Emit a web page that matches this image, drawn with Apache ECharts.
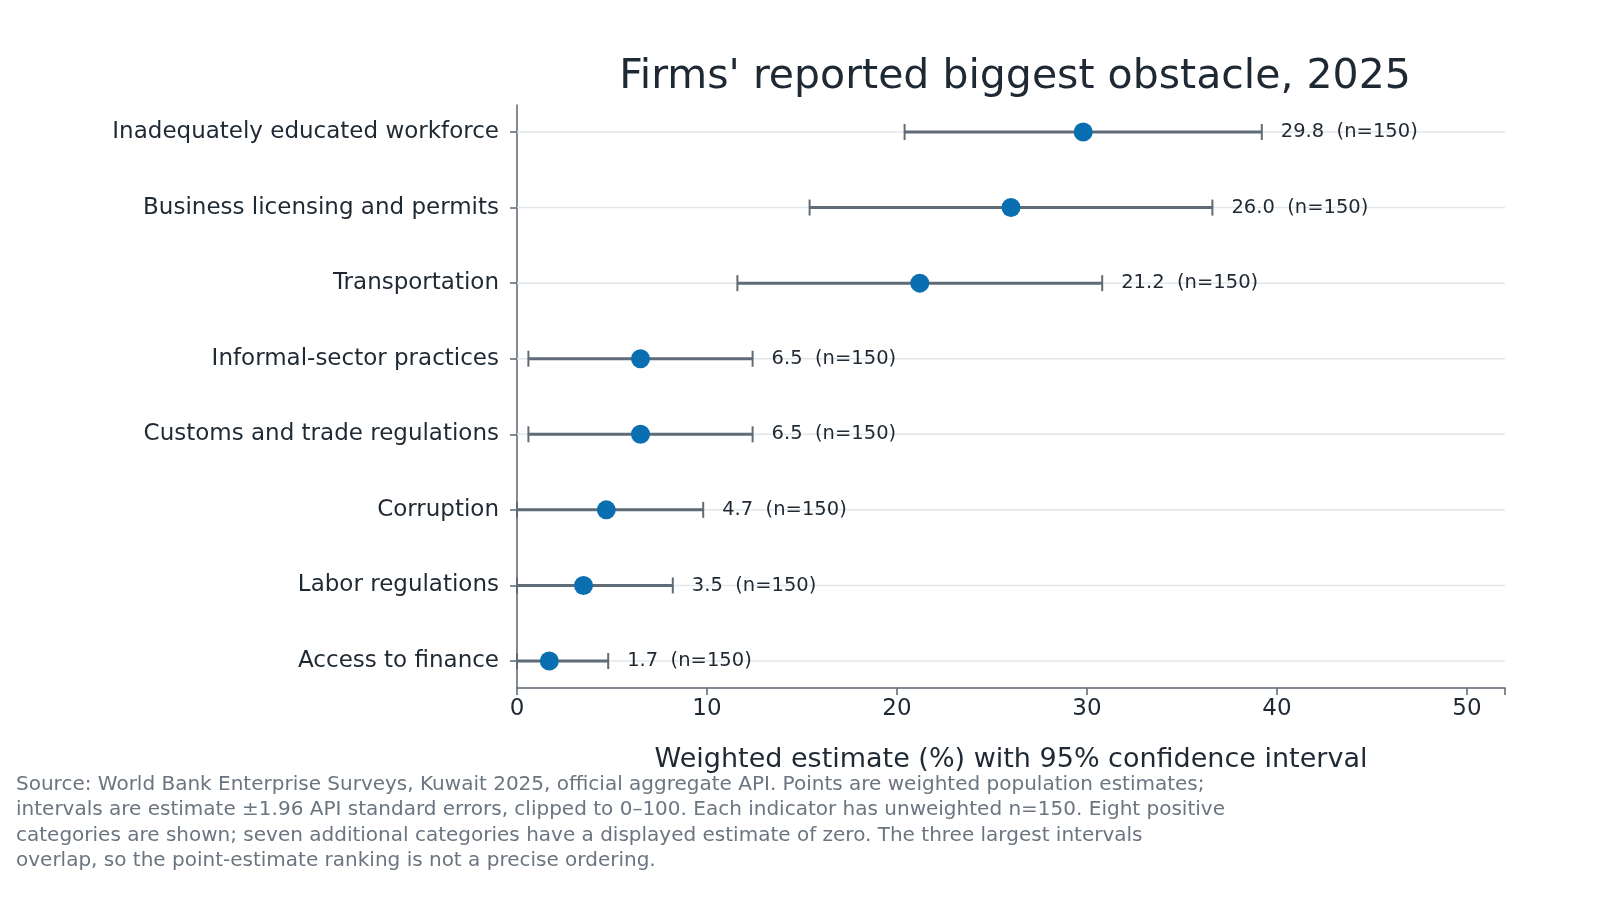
<!DOCTYPE html>
<html><head><meta charset="utf-8">
<script src="https://cdn.jsdelivr.net/npm/echarts@6/dist/echarts.min.js"></script>
<style>html,body{margin:0;padding:0;background:#fff}#c{width:1600px;height:900px}</style>
</head><body><div id="c"></div>
<script>
const categories = ["Access to finance","Labor regulations","Corruption","Customs and trade regulations","Informal-sector practices","Transportation","Business licensing and permits","Inadequately educated workforce"];
const estimates = [1.7,3.5,4.7,6.5,6.5,21.2,26.0,29.8];
const lows = [0,0,0,0.6,0.6,11.6,15.4,20.4];
const highs = [4.8,8.2,9.8,12.4,12.4,30.8,36.6,39.2];
const nValues = [150,150,150,150,150,150,150,150];
const xTicks = [0,10,20,30,40,50];

const F = 'DejaVu Sans';
const chart = echarts.init(document.getElementById('c'));
chart.setOption({
  animation:false,
  textStyle:{fontFamily:F},
  title:{text:"Firms' reported biggest obstacle, 2025",left:1010,top:52,textAlign:'center',
    textStyle:{fontFamily:F,fontSize:41,fontWeight:'normal',color:'#1f2933'}},
  grid:{left:517,right:95,top:105,bottom:212},
  xAxis:{type:'value',min:0,max:52,interval:10,
    name:'Weighted estimate (%) with 95% confidence interval',nameLocation:'middle',nameGap:58,
    nameTextStyle:{fontFamily:F,fontSize:27,color:'#1f2933'},
    axisLine:{show:true,onZero:false,lineStyle:{color:'#5a6570',width:1.5}},
    axisTick:{show:true,length:7,lineStyle:{color:'#5a6570',width:1.5}},
    axisLabel:{fontFamily:F,fontSize:23,color:'#1f2933',margin:10,
      formatter:v=>xTicks.includes(v)?String(v):''},
    splitLine:{show:false}},
  yAxis:{type:'value',min:-0.357,max:7.357,interval:1,
    axisLine:{show:true,onZero:false,lineStyle:{color:'#5a6570',width:1.5}},
    axisTick:{show:true,length:7,lineStyle:{color:'#5a6570',width:1.5},
      customValues:[0,1,2,3,4,5,6,7]},
    axisLabel:{fontFamily:F,fontSize:23,color:'#1f2933',margin:18,
      customValues:[0,1,2,3,4,5,6,7],formatter:v=>categories[Math.round(v)]},
    splitLine:{show:false}},
  series:[
    {type:'custom',z:1,data:categories.map((c,i)=>[i]),
     renderItem:(p,api)=>{const i=api.value(0);
       const a=api.coord([0,i]), b=api.coord([52,i]);
       return {type:'line',shape:{x1:a[0],y1:a[1],x2:b[0],y2:b[1]},style:{stroke:'#e3e6e9',lineWidth:1.5}};}},
    {type:'custom',z:2,data:categories.map((c,i)=>[i,lows[i],highs[i],estimates[i],nValues[i]]),
     renderItem:(p,api)=>{const i=api.value(0);
       const l=api.coord([api.value(1),i]), h=api.coord([api.value(2),i]);
       const st={stroke:'#5f6b77',lineWidth:3};
       return {type:'group',children:[
         {type:'line',shape:{x1:l[0],y1:l[1],x2:h[0],y2:h[1]},style:st},
         {type:'line',shape:{x1:l[0],y1:l[1]-8,x2:l[0],y2:l[1]+8},style:{stroke:'#5f6b77',lineWidth:2}},
         {type:'line',shape:{x1:h[0],y1:h[1]-8,x2:h[0],y2:h[1]+8},style:{stroke:'#5f6b77',lineWidth:2}},
         {type:'text',x:h[0]+19,y:h[1],style:{text:api.value(3).toFixed(1)+'  (n='+api.value(4)+')',
           fontFamily:F,fontSize:19.5,fill:'#1f2933',verticalAlign:'middle',align:'left'}}
       ]};}},
    {type:'scatter',z:3,symbolSize:19,itemStyle:{color:'#0a6fb0',opacity:1},
     data:estimates.map((v,i)=>[v,i])}
  ],
  graphic:[{type:'text',left:16,top:772,style:{
    text:"Source: World Bank Enterprise Surveys, Kuwait 2025, official aggregate API. Points are weighted population estimates;\nintervals are estimate ±1.96 API standard errors, clipped to 0–100. Each indicator has unweighted n=150. Eight positive\ncategories are shown; seven additional categories have a displayed estimate of zero. The three largest intervals\noverlap, so the point-estimate ranking is not a precise ordering.",
    fontFamily:F,fontSize:20,lineHeight:25.5,fill:'#6b7580'}}]
});
</script></body></html>
